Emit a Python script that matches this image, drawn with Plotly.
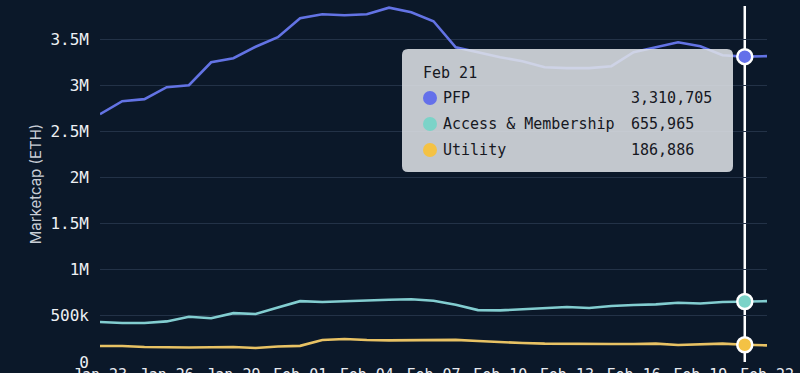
import plotly.graph_objects as go
import pandas as pd

dates = pd.date_range("2023-01-23", "2023-02-22", freq="D")

pfp = [2.687, 2.828, 2.850, 2.980, 3.001, 3.250, 3.294, 3.418, 3.522, 3.727,
       3.771, 3.760, 3.771, 3.842, 3.792, 3.695, 3.413, 3.359, 3.305, 3.261,
       3.196, 3.186, 3.186, 3.207, 3.359, 3.413, 3.467, 3.424, 3.326, 3.310705,
       3.316]
access = [0.433, 0.423, 0.423, 0.440, 0.490, 0.475, 0.530, 0.520, 0.590, 0.660,
          0.650, 0.660, 0.668, 0.675, 0.680, 0.665, 0.620, 0.563, 0.560, 0.570,
          0.580, 0.596, 0.585, 0.607, 0.618, 0.625, 0.643, 0.635, 0.650, 0.655965,
          0.660]
utility = [0.173, 0.173, 0.163, 0.157, 0.157, 0.160, 0.163, 0.152, 0.168, 0.175,
           0.238, 0.250, 0.238, 0.235, 0.235, 0.238, 0.240, 0.228, 0.213, 0.206,
           0.199, 0.195, 0.195, 0.195, 0.195, 0.199, 0.184, 0.188, 0.199, 0.186886,
           0.180]

series_names = ["PFP", "Access & Membership", "Utility"]
series_values = [pfp, access, utility]
line_colors = ["#6373e4", "#82cdd0", "#e8c264"]
dot_colors = ["#6470ea", "#7bd3c8", "#f4c244"]

ytick_vals = [0, 0.5, 1, 1.5, 2, 2.5, 3, 3.5]
ytick_text = ["0", "500k", "1M", "1.5M", "2M", "2.5M", "3M", "3.5M"]

hover_idx = 29
hover_label = "Feb 21"

MONO = "DejaVu Sans Mono"
BG = "#0b1829"

fig = go.Figure()
for name, vals, col in zip(series_names, series_values, line_colors):
    fig.add_trace(go.Scatter(x=dates, y=vals, mode="lines", name=name,
                             line=dict(color=col, width=2.6), hoverinfo="skip"))

# hover spike line (above gridlines, below the traces' markers)
fig.add_shape(type="line", xref="x", yref="paper",
              x0=dates[hover_idx], x1=dates[hover_idx], y0=0, y1=1,
              line=dict(color="white", width=2.5), layer="between")

# hover markers
for vals, col in zip(series_values, dot_colors):
    fig.add_trace(go.Scatter(x=[dates[hover_idx]], y=[vals[hover_idx]], mode="markers",
                             marker=dict(size=15, color=col, line=dict(color="white", width=2.5)),
                             showlegend=False, hoverinfo="skip"))

# tooltip box (paper coords), rounded corners
L, R, B, T = 100, 767, 362, 6
def px(x):
    return (x - L) / (R - L)
def py(y):
    return (B - y) / (B - T)

bx0, bx1, by0, by1 = px(402), px(733), py(172), py(49)
rx, ry = 6 / (R - L), 6 / (B - T)
path = (f"M {bx0+rx},{by1} L {bx1-rx},{by1} Q {bx1},{by1} {bx1},{by1-ry} "
        f"L {bx1},{by0+ry} Q {bx1},{by0} {bx1-rx},{by0} "
        f"L {bx0+rx},{by0} Q {bx0},{by0} {bx0},{by0+ry} "
        f"L {bx0},{by1-ry} Q {bx0},{by1} {bx0+rx},{by1} Z")
fig.add_shape(type="path", xref="paper", yref="paper", path=path,
              fillcolor="rgba(222,225,230,0.87)", line=dict(width=0), layer="above")

fig.add_annotation(xref="paper", yref="paper", x=px(421), y=py(73), text=hover_label,
                   showarrow=False, xanchor="left", yanchor="middle",
                   font=dict(family=MONO, size=15, color="#16181f"))
row_y = [98, 124, 150]
for name, vals, col, yy in zip(series_names, series_values, dot_colors, row_y):
    fig.add_shape(type="circle", xref="paper", yref="paper",
                  xsizemode="pixel", ysizemode="pixel",
                  xanchor=px(430), yanchor=py(yy), x0=-7, x1=7, y0=-7, y1=7,
                  fillcolor=col, line=dict(width=0), layer="above")
    fig.add_annotation(xref="paper", yref="paper", x=px(441), y=py(yy), text=name,
                       showarrow=False, xanchor="left", yanchor="middle",
                       font=dict(family=MONO, size=15, color="#16181f"))
    fig.add_annotation(xref="paper", yref="paper", x=px(629), y=py(yy),
                       text=f"{round(vals[hover_idx]*1e6):,}",
                       showarrow=False, xanchor="left", yanchor="middle",
                       font=dict(family=MONO, size=15, color="#16181f"))

fig.update_layout(
    width=800, height=373,
    margin=dict(l=L, r=800 - R, t=T, b=373 - B),
    paper_bgcolor=BG, plot_bgcolor=BG,
    showlegend=False,
    xaxis=dict(range=[dates[0], dates[-1]], showgrid=False, zeroline=False,
               showline=False, dtick=3 * 86400000, tick0=dates[0],
               tickformat="%b %d", ticks="", automargin=False, ticklabelstandoff=2,
               tickfont=dict(family=MONO, size=15, color="#e8ebf0")),
    yaxis=dict(range=[0, 3.86], tickvals=ytick_vals, ticktext=ytick_text,
               showgrid=True, gridcolor="#233247", gridwidth=1, zeroline=False,
               ticks="", ticklabelstandoff=10, automargin=False,
               tickfont=dict(family=MONO, size=16, color="#eef0f4"),
               title=dict(text="Marketcap (ETH)", standoff=5,
                          font=dict(family="Inter", size=15, color="#c9ced6"))),
)

fig.write_html("out.html", config={"displayModeBar": False},
               post_script="document.body.style.margin='0';document.body.style.background='#0b1829';")
